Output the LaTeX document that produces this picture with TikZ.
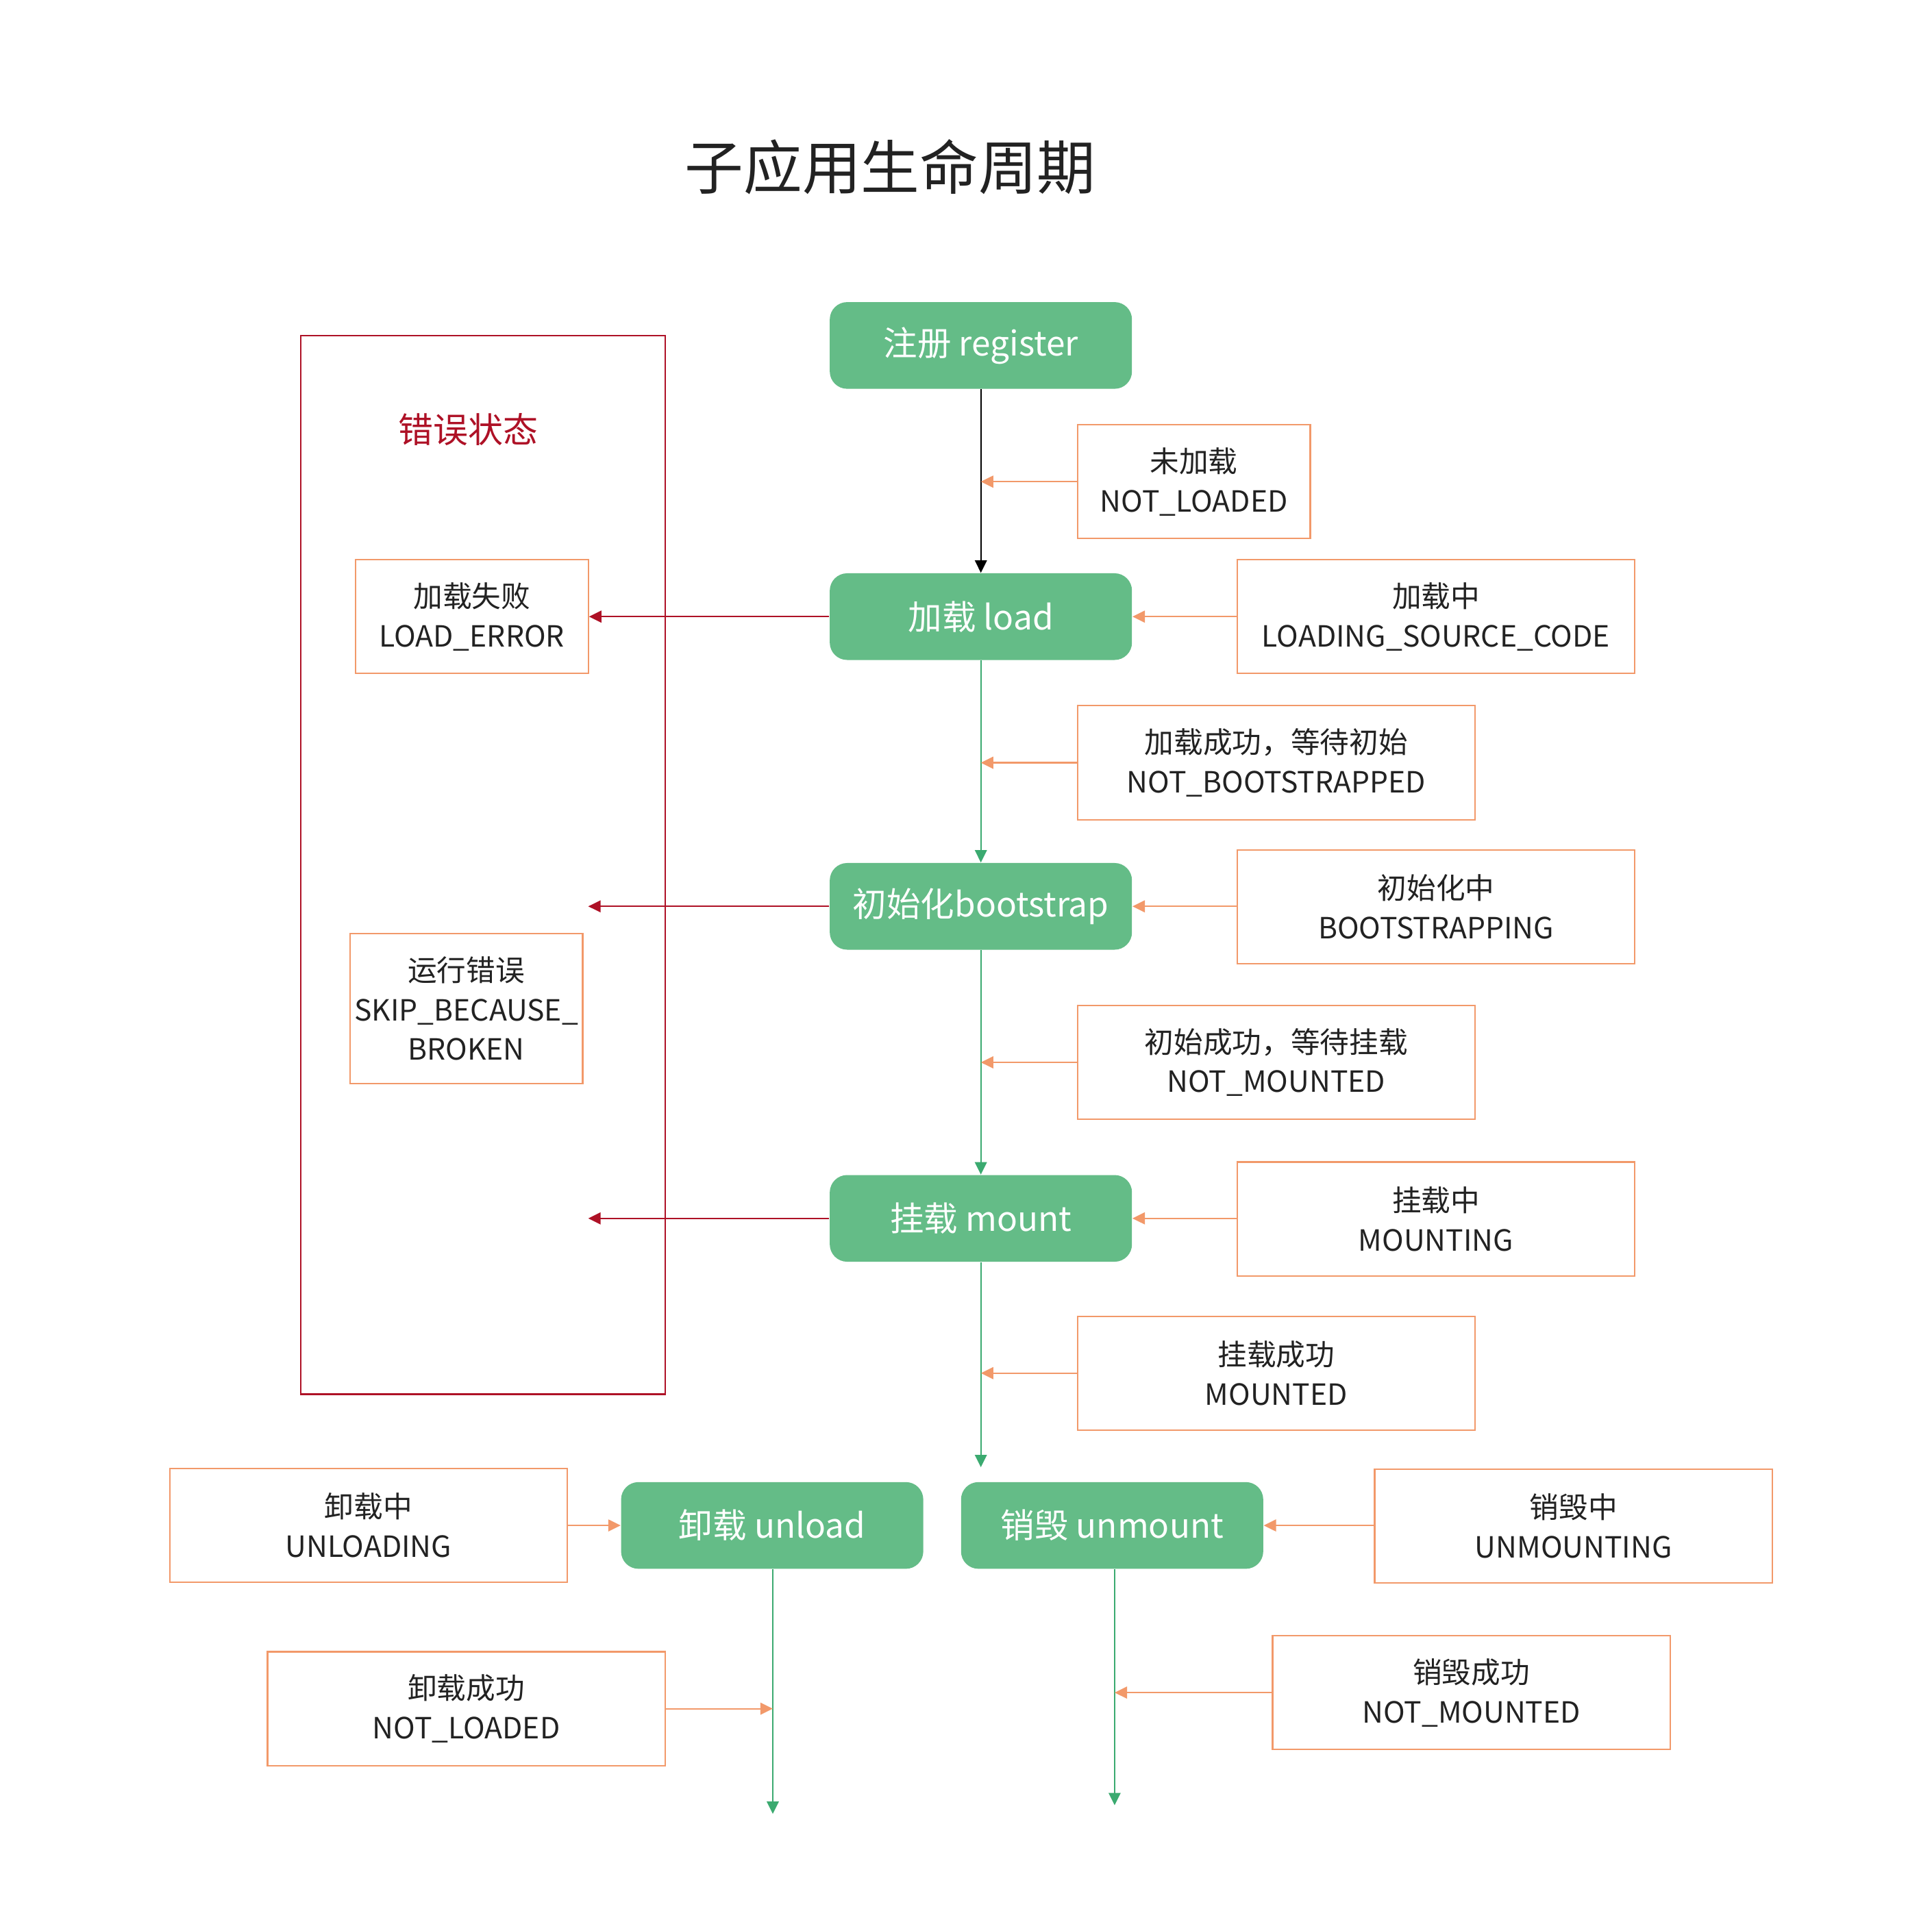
\documentclass[tikz,border=0pt]{standalone}
\usepackage{fontspec}
\setmainfont{Noto Sans CJK SC}
\usetikzlibrary{arrows.meta}
\definecolor{gfill}{HTML}{64BC87}
\definecolor{gline}{HTML}{3BAA70}
\definecolor{oline}{HTML}{F2996A}
\definecolor{rline}{HTML}{AE1126}
\definecolor{txt}{HTML}{222222}
\tikzset{
  greenbox/.style={fill=gfill, draw=none, rounded corners=7pt, minimum width=122pt, minimum height=35pt, inner sep=0pt, text=white, font=\fontsize{13.7}{17}\selectfont},
  stbox/.style={draw=oline, line width=0.6pt, fill=white, minimum height=46pt, inner sep=0pt, align=center, text=txt, font=\fontsize{11.8}{16}\selectfont},
  narrow/.style={stbox, minimum width=94pt},
  wide/.style={stbox, minimum width=160.5pt},
  oarrow/.style={draw=oline, line width=0.6pt, -{Triangle[length=5pt,width=4.8pt]}},
  garrow/.style={draw=gline, line width=0.6pt, -{Triangle[length=5pt,width=4.8pt]}},
  rarrow/.style={draw=rline, line width=0.6pt, -{Triangle[length=5pt,width=4.8pt]}},
  karrow/.style={draw=black, line width=0.6pt, -{Triangle[length=5pt,width=4.8pt]}}
}
\begin{document}
\begin{tikzpicture}[x=0.5pt,y=-0.5pt]
\useasboundingbox[fill=white] (0,0) rectangle (1560,1543.4);

% title
\node[text=txt, font=\fontsize{23.7}{28}\selectfont] (title) at (719,135) {子应用生命周期};

% error frame
\node[draw=rline, line width=0.6pt, minimum width=147pt, minimum height=427.5pt, inner sep=0pt] (errframe) at (390,698.5) {};
\node[text=rline, font=\fontsize{14.1}{17}\selectfont] (errlabel) at (378,347) {错误状态};
\node[narrow] (loaderr) at (381,498) {加载失败\\LOAD\_ERROR};
\node[narrow, minimum height=60.5pt] (broken) at (376.5,814.5) {运行错误\\SKIP\_BECAUSE\_\\BROKEN};

% main states
\node[greenbox] (register) at (792,279) {注册 register};
\node[greenbox] (load) at (792,498) {加载 load};
\node[greenbox] (bootstrap) at (792,732) {初始化bootstrap};
\node[greenbox] (mount) at (792,984) {挂载 mount};
\node[greenbox] (unload) at (623.5,1232) {卸载 unload};
\node[greenbox] (unmount) at (898,1232) {销毁 unmount};

% status boxes
\node[narrow] (s1) at (964,389) {未加载\\NOT\_LOADED};
\node[wide] (s2) at (1159.5,498) {加载中\\LOADING\_SOURCE\_CODE};
\node[wide] (s3) at (1030.5,616) {加载成功，等待初始\\NOT\_BOOTSTRAPPED};
\node[wide] (s4) at (1159.5,732.5) {初始化中\\BOOTSTRAPPING};
\node[wide] (s5) at (1030.5,858) {初始成功，等待挂载\\NOT\_MOUNTED};
\node[wide] (s6) at (1159.5,984.5) {挂载中\\MOUNTING};
\node[wide] (s7) at (1030.5,1109) {挂载成功\\MOUNTED};
\node[wide] (s8) at (297.5,1232) {卸载中\\UNLOADING};
\node[wide] (s9) at (1270.5,1232.5) {销毁中\\UNMOUNTING};
\node[wide] (s10) at (376.5,1380) {卸载成功\\NOT\_LOADED};
\node[wide] (s11) at (1188,1367) {销毁成功\\NOT\_MOUNTED};

% coordinates on lines / free ends
\coordinate (c1) at (792,389);
\coordinate (c3) at (792,616);
\coordinate (c5) at (792,858);
\coordinate (c7) at (792,1109);
\coordinate (c10) at (624,1380);
\coordinate (c11) at (900,1367);
\coordinate (e1) at (792,1185);
\coordinate (e2) at (624,1465);
\coordinate (e3) at (900,1458);
\coordinate (r2) at (475,732);
\coordinate (r3) at (475,984);

% main flow
\draw[karrow] (register) -- (load);
\draw[garrow] (load) -- (bootstrap);
\draw[garrow] (bootstrap) -- (mount);
\draw[garrow] (mount) -- (e1);
\draw[garrow] (unload.south -| e2) -- (e2);
\draw[garrow] (unmount.south -| e3) -- (e3);

% status arrows
\draw[oarrow] (s1.west) -- (c1);
\draw[oarrow] (s2.west) -- (load.east);
\draw[oarrow] (s3.west) -- (c3);
\draw[oarrow] (s4.west |- bootstrap.east) -- (bootstrap.east);
\draw[oarrow] (s5.west) -- (c5);
\draw[oarrow] (s6.west |- mount.east) -- (mount.east);
\draw[oarrow] (s7.west) -- (c7);
\draw[oarrow] (s8.east) -- (unload.west);
\draw[oarrow] (s9.west |- unmount.east) -- (unmount.east);
\draw[oarrow] (s10.east) -- (c10);
\draw[oarrow] (s11.west) -- (c11);

% error arrows
\draw[rarrow] (load.west) -- (loaderr.east);
\draw[rarrow] (bootstrap.west) -- (r2);
\draw[rarrow] (mount.west) -- (r3);
\end{tikzpicture}
\end{document}
